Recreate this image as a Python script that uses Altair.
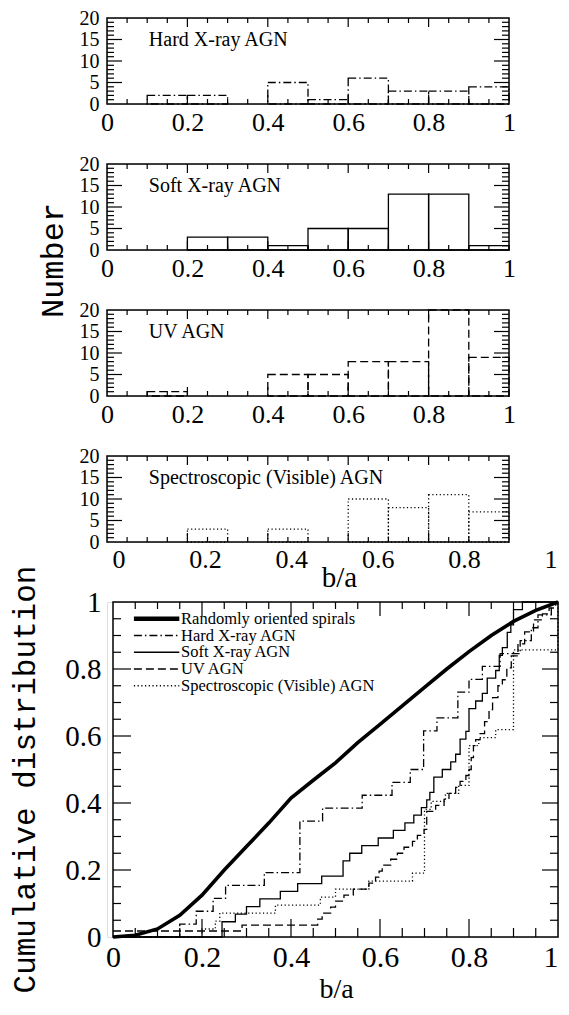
import altair as alt
import pandas as pd

# ---------------- data ----------------
bin_left = [0.0, 0.1, 0.2, 0.3, 0.4, 0.5, 0.6, 0.7, 0.8, 0.9]
bin_width = 0.1
hard_counts = [0, 2, 2, 0, 5, 1, 6, 3, 3, 4]
soft_counts = [0, 0, 3, 3, 1, 5, 5, 13, 13, 1]
uv_counts = [0, 1, 0, 0, 5, 5, 8, 8, 20, 9]
spec_counts = [0, 0, 3, 0, 3, 0, 10, 8, 11, 7]
panel_names = ["Hard X-ray AGN", "Soft X-ray AGN", "UV AGN", "Spectroscopic (Visible) AGN"]

x_tick_labels = [0, 0.2, 0.4, 0.6, 0.8, 1]
count_tick_labels = [0, 5, 10, 15, 20]
cum_tick_labels = [0, 0.2, 0.4, 0.6, 0.8, 1]

# cumulative distributions (b/a where the count steps up, cumulative count)
rand_x = [0.0, 0.05, 0.1, 0.15, 0.2, 0.25, 0.3, 0.35, 0.4, 0.45, 0.5, 0.55, 0.6,
          0.65, 0.7, 0.75, 0.8, 0.85, 0.9, 0.95, 1.0]
rand_y = [0.0, 0.005, 0.024, 0.065, 0.125, 0.2, 0.27, 0.34, 0.415, 0.468, 0.52, 0.58,
          0.635, 0.69, 0.745, 0.8, 0.852, 0.9, 0.942, 0.975, 1.0]

hard_x = [0.0, 0.15, 0.187, 0.225, 0.253, 0.34, 0.42, 0.471, 0.56, 0.627, 0.668, 0.698,
          0.728, 0.775, 0.80, 0.83, 0.87, 0.915, 0.94, 0.955, 0.985, 1.0]
hard_n = [0, 1, 2, 3, 4, 5, 9, 10, 11, 12, 13, 16, 17, 19, 20, 21, 22, 23, 24, 25, 26, 26]
hard_total = 26

soft_x = [0.0, 0.245, 0.275, 0.30, 0.33, 0.376, 0.415, 0.469, 0.517, 0.532, 0.559, 0.596,
          0.630, 0.656, 0.676, 0.693, 0.705, 0.712, 0.721, 0.74, 0.759, 0.77, 0.78, 0.793,
          0.80, 0.815, 0.83, 0.841, 0.86, 0.868, 0.875, 0.886, 0.894, 0.90, 0.92, 1.0]
soft_n = [0, 2, 3, 4, 5, 6, 7, 8, 10, 11, 12, 13, 14, 15, 16, 17, 18, 19, 21, 22, 23, 24,
          26, 27, 30, 31, 32, 34, 35, 37, 38, 40, 41, 43, 44, 44]
soft_total = 44

uv_x = [0.0, 0.29, 0.46, 0.47, 0.489, 0.50, 0.519, 0.54, 0.575, 0.59, 0.598, 0.605, 0.624,
        0.639, 0.654, 0.673, 0.684, 0.699, 0.705, 0.725, 0.744, 0.755, 0.77, 0.78, 0.793,
        0.80, 0.805, 0.81, 0.815, 0.825, 0.835, 0.845, 0.853, 0.865, 0.875, 0.885, 0.895,
        0.91, 0.925, 0.945, 0.965, 0.98, 0.995, 1.0]
uv_n = [1, 2, 3, 4, 5, 6, 7, 8, 9, 10, 11, 12, 13, 14, 15, 16, 17, 18, 21, 22, 23, 24, 25,
        26, 27, 28, 30, 32, 33, 34, 36, 38, 40, 42, 43, 45, 47, 49, 51, 53, 54, 55, 56, 56]
uv_total = 56

spec_x = [0.0, 0.20, 0.23, 0.24, 0.365, 0.466, 0.50, 0.575, 0.673, 0.70, 0.715, 0.747,
          0.777, 0.80, 0.822, 0.86, 0.90, 1.0]
spec_n = [0, 1, 2, 3, 4, 5, 6, 7, 8, 16, 17, 18, 19, 24, 25, 26, 36, 42]
spec_total = 42

legend_names = ["Randomly oriented spirals", "Hard X-ray AGN", "Soft X-ray AGN",
                "UV AGN", "Spectroscopic (Visible) AGN"]

# ticks
x_major = [0.2, 0.4, 0.6, 0.8]
x_minor = [0.05, 0.1, 0.15, 0.25, 0.3, 0.35, 0.45, 0.5, 0.55, 0.65, 0.7, 0.75, 0.85, 0.9, 0.95]
n_major = [5, 10, 15]
n_minor = [1, 2, 3, 4, 6, 7, 8, 9, 11, 12, 13, 14, 16, 17, 18, 19]
c_major = [0.2, 0.4, 0.6, 0.8]
c_minor = x_minor

# ---------------- layout / style ----------------
SERIF = "Liberation Serif"
MONO = "Liberation Mono"
TW, TH = 402, 86
BOFF = 6
BW, BH = 451, 335
P4_LABEL_PX = (12, 444)   # the 4th panel's tick labels sit on a wider span, as in the original

DASH_HARD = [8, 3, 1.5, 3]
DASH_UV = [8, 4]
DASH_SPEC = [1.2, 2.5]
STYLES = {
    "hard": dict(strokeDash=DASH_HARD),
    "soft": dict(),
    "uv": dict(strokeDash=DASH_UV),
    "spec": dict(strokeDash=DASH_SPEC),
}


class Frame:
    """Holds the shared scales and axes of one panel so every layer uses the same ones."""

    def __init__(self, xs, ys, xaxis, yaxis):
        self.xs, self.ys, self.xaxis, self.yaxis = xs, ys, xaxis, yaxis

    def X(self, field=None, datum=None):
        if field is not None:
            return alt.X(field, scale=self.xs, axis=self.xaxis)
        return alt.X(datum=datum, scale=self.xs, axis=self.xaxis)

    def Y(self, field=None, datum=None):
        if field is not None:
            return alt.Y(field, scale=self.ys, axis=self.yaxis)
        return alt.Y(datum=datum, scale=self.ys, axis=self.yaxis)

    def rules_x(self, vals, length, H, top=False):
        d = pd.DataFrame({"t": vals})
        if top:
            y1, y2 = alt.value(0), alt.value(length)
        else:
            y1, y2 = alt.value(H), alt.value(H - length)
        return alt.Chart(d).mark_rule(color="black", strokeWidth=1.2).encode(
            x=self.X("t:Q"), y=y1, y2=y2)

    def rules_y(self, vals, length, xpix, direction):
        d = pd.DataFrame({"t": vals})
        return alt.Chart(d).mark_rule(color="black", strokeWidth=1.2).encode(
            y=self.Y("t:Q"), x=alt.value(xpix), x2=alt.value(xpix + direction * length))

    def box(self, x1, y1):
        return alt.Chart(pd.DataFrame({"k": [0]})).mark_rect(
            fillOpacity=0, stroke="black", strokeWidth=1.5).encode(
            x=self.X(datum=0), x2=alt.X2(datum=x1), y=self.Y(datum=0), y2=alt.Y2(datum=y1))


XAXIS_KW = dict(values=x_tick_labels, format="~g", labelFont=SERIF, labelFontSize=26,
                labelBaseline="alphabetic", labelPadding=26, ticks=False, domain=False,
                grid=False, labelFlush=False, labelOverlap=False, labelColor="black")


def hist_panel(counts, name, style, ytitle=False, last=False):
    xs = alt.Scale(domain=[0, 1], nice=False, zero=False)
    ys = alt.Scale(domain=[0, 20], nice=False)
    df = pd.DataFrame({"x0": bin_left, "n": counts})
    df["x1"] = df["x0"] + bin_width
    df = df[df["n"] > 0]

    if last:
        xaxis = alt.Axis(labels=False, ticks=False, domain=False, grid=False,
                         title="b/a", titleFont=SERIF, titleFontSize=29,
                         titleFontWeight="normal", titleX=232, titleY=44,
                         titleBaseline="alphabetic", titleAlign="center",
                         titleAnchor="start", titleColor="black")
    else:
        xaxis = alt.Axis(title=None, **XAXIS_KW)
    yaxis_kw = dict(values=count_tick_labels, labelFont=SERIF, labelFontSize=20,
                    labelPadding=8, ticks=False, domain=False, grid=False,
                    labelFlush=False, labelOverlap=False, labelBaseline="middle",
                    labelColor="black")
    if ytitle:
        yaxis = alt.Axis(title="Number", titleFont=MONO, titleFontSize=32,
                         titleFontWeight="normal", titleX=-45, titleY=96, titleAngle=270,
                         titleBaseline="alphabetic", titleAlign="center", titleAnchor="start",
                         titleColor="black", **yaxis_kw)
    else:
        yaxis = alt.Axis(title=None, **yaxis_kw)

    F = Frame(xs, ys, xaxis, yaxis)

    bars = alt.Chart(df).mark_rect(fillOpacity=0, stroke="black", strokeWidth=1.3,
                                   **STYLES[style]).encode(
        x=F.X("x0:Q"), x2="x1:Q", y=F.Y("n:Q"), y2=alt.Y2(datum=0))

    label = alt.Chart(pd.DataFrame({"label": [name]})).mark_text(
        align="left", baseline="middle", font=SERIF, fontSize=20, color="black").encode(
        x=F.X(datum=0.104), y=F.Y(datum=15), text="label:N")

    ticks = [
        F.rules_x(x_major, 9, TH), F.rules_x(x_minor, 5, TH),
        F.rules_x(x_major, 9, TH, top=True), F.rules_x(x_minor, 5, TH, top=True),
        F.rules_y(n_major, 15, 0, 1), F.rules_y(n_minor, 7, 0, 1),
        F.rules_y(n_major, 15, TW, -1), F.rules_y(n_minor, 7, TW, -1),
    ]
    layers = [bars, F.box(1, 20), label, *ticks]
    if last:
        a, b = P4_LABEL_PX
        lab = alt.Chart(pd.DataFrame({"v": x_tick_labels})).transform_calculate(
            pos=f"({a} + datum.v * {b - a}) / {TW}"
        ).mark_text(font=SERIF, fontSize=26, baseline="alphabetic", align="center",
                    color="black").encode(
            x=F.X("pos:Q"), y=alt.value(TH + 26), text=alt.Text("v:Q", format="~g"))
        layers.append(lab)
    return alt.layer(*layers).properties(width=TW, height=TH)


p1 = hist_panel(hard_counts, panel_names[0], "hard")
p2 = hist_panel(soft_counts, panel_names[1], "soft", ytitle=True)
p3 = hist_panel(uv_counts, panel_names[2], "uv")
p4 = hist_panel(spec_counts, panel_names[3], "spec", last=True)

# ---------------- cumulative panel ----------------
bxs = alt.Scale(domain=[0, 1], range=[BOFF, BW], nice=False, zero=False)
bys = alt.Scale(domain=[0, 1], nice=False)

bx_axis = alt.Axis(values=x_tick_labels, format="~g", labelFont=SERIF, labelFontSize=30,
                   labelBaseline="alphabetic", labelPadding=29, ticks=False, domain=False,
                   grid=False, labelFlush=False, labelOverlap=False, labelColor="black",
                   labelAlign=alt.ExprRef(expr="datum.value == 1 ? 'right' : 'center'"),
                   title="b/a", titleFont=SERIF, titleFontSize=28, titleFontWeight="normal",
                   titleX=229, titleY=60, titleBaseline="alphabetic", titleAlign="center",
                   titleAnchor="start", titleColor="black")
by_axis = alt.Axis(values=cum_tick_labels, format="~g", labelFont=SERIF, labelFontSize=29,
                   labelPadding=6, ticks=False, domain=False, grid=False, labelFlush=False,
                   labelOverlap=False, labelBaseline="middle", labelColor="black",
                   title="Cumulative distribution", titleFont=MONO, titleFontSize=31,
                   titleFontWeight="normal", titleX=-73, titleY=177, titleAngle=270,
                   titleBaseline="alphabetic", titleAlign="center", titleAnchor="start",
                   titleColor="black")
B = Frame(bxs, bys, bx_axis, by_axis)

rand_df = pd.DataFrame({"x": rand_x, "y": rand_y})
rand_line = alt.Chart(rand_df).mark_line(color="black", strokeWidth=3.6).encode(
    x=B.X("x:Q"), y=B.Y("y:Q"))


def cum_line(xv, nv, total, style):
    d = pd.DataFrame({"x": xv, "n": nv})
    d["y"] = d["n"] / total
    return alt.Chart(d).mark_line(color="black", strokeWidth=1.3, interpolate="step-after",
                                  **STYLES[style]).encode(x=B.X("x:Q"), y=B.Y("y:Q"))


lines = [
    cum_line(hard_x, hard_n, hard_total, "hard"),
    cum_line(soft_x, soft_n, soft_total, "soft"),
    cum_line(uv_x, uv_n, uv_total, "uv"),
    cum_line(spec_x, spec_n, spec_total, "spec"),
]

# legend (positions in data units of the panel)
LEG_X0, LEG_X1, LEG_TX = 0.047, 0.149, 0.153
LEG_ROWS = [0.95, 0.90, 0.85, 0.80, 0.75]
leg_styles = [None, "hard", "soft", "uv", "spec"]
legend_layers = []
for name, row, st in zip(legend_names, LEG_ROWS, leg_styles):
    d = pd.DataFrame({"x": [LEG_X0, LEG_X1], "y": [row, row]})
    if st is None:
        mk = alt.Chart(d).mark_line(color="black", strokeWidth=4.5)
    else:
        mk = alt.Chart(d).mark_line(color="black", strokeWidth=1.3, **STYLES[st])
    legend_layers.append(mk.encode(x=B.X("x:Q"), y=B.Y("y:Q")))
leg_text = alt.Chart(pd.DataFrame({"label": legend_names, "y": LEG_ROWS})).mark_text(
    align="left", baseline="middle", font=SERIF, fontSize=16.5, color="black").encode(
    x=B.X(datum=LEG_TX), y=B.Y("y:Q"), text="label:N")

bticks = [
    B.rules_x(c_major, 18, BH), B.rules_x(c_minor, 9, BH),
    B.rules_x(c_major, 14, BH, top=True), B.rules_x(c_minor, 7, BH, top=True),
    B.rules_y(c_major, 18, BOFF, 1), B.rules_y(c_minor, 8, BOFF, 1),
    B.rules_y(c_major, 16, BW, -1), B.rules_y(c_minor, 8, BW, -1),
]

bottom = alt.layer(rand_line, *lines, *legend_layers, leg_text, B.box(1, 1), *bticks).properties(
    width=BW, height=BH)

chart = alt.vconcat(p1, p2, p3, p4, bottom, spacing=60, bounds="flush").properties(
    padding={"left": 0, "top": -1, "right": -7.5, "bottom": 0}
).configure_view(strokeWidth=0).configure(background="white")

chart.save("out.html", embed_options={"renderer": "svg", "actions": False})
